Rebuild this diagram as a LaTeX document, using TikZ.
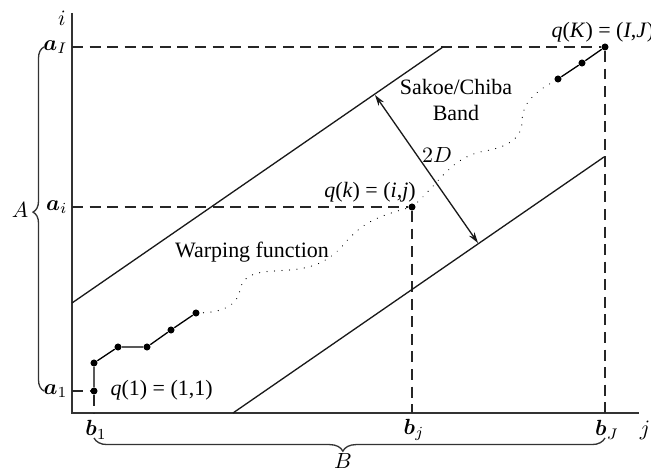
\documentclass[tikz,border=0pt]{standalone}
\usepackage{amsmath}
\usepackage{amssymb}
\usepackage{fontspec}
\setmainfont{Liberation Serif}
\usetikzlibrary{arrows.meta,decorations.pathreplacing}
\tikzset{
  dtwaxis/.style={draw, line width=0.8pt, black!80},
  dtwgrid/.style={draw, line width=0.6pt, black!85, dash pattern=on 5pt off 3pt},
  dtwband/.style={draw, line width=0.6pt, black!90},
  dtwpoint/.style={circle, fill=black, minimum size=3.2pt, inner sep=0pt},
  dtwpath/.style={draw, line width=0.6pt},
  dtwgap/.style={draw, line width=0.55pt, dash pattern=on 0.01pt off 3.4pt,
                 line cap=round},
  dtwbrace/.style={draw, line width=0.6pt, black!80, decorate},
  dtwlabel/.style={font=\fontsize{10}{12}\selectfont, inner sep=1pt}
}

\begin{document}
\begin{tikzpicture}[
    x=0.016cm, y=-0.016cm,
    twoheads/.style={{Stealth[length=5pt,width=3pt]}-{Stealth[length=5pt,width=3pt]}}
]
  \useasboundingbox (0,0) rectangle (651,472);
  % axes
  \coordinate (itop) at (72,13);
  \coordinate (orig) at (72,413);
  \coordinate (jend) at (639,413);
  \draw[dtwaxis] (itop) -- (orig) -- (jend);
  \node[dtwlabel] (ilab) at (62,18) {$i$};
  \node[dtwlabel] (jlab) at (645,430) {$j$};
  % ticks on the axes
  \coordinate (aI) at (72,47);
  \coordinate (ai) at (72,207);
  \coordinate (a1) at (72,391);
  \coordinate (b1) at (94,413);
  \coordinate (bj) at (412,413);
  \coordinate (bJ) at (605,413);
  \node[dtwlabel, anchor=east] (laI) at (70,47) {$\boldsymbol{a}_I$};
  \node[dtwlabel, anchor=east] (lai) at (70,207) {$\boldsymbol{a}_i$};
  \node[dtwlabel, anchor=east] (la1) at (70,391) {$\boldsymbol{a}_1$};
  \node[dtwlabel] (lb1) at (96,430) {$\boldsymbol{b}_1$};
  \node[dtwlabel] (lbj) at (414,430) {$\boldsymbol{b}_j$};
  \node[dtwlabel] (lbJ) at (607,430) {$\boldsymbol{b}_J$};
  % warping points
  \foreach \name/\px/\py in {w1/94/391, w2/94/363, w3/118/347, w4/147/347,
                             w5/171/330, w6/196/313, wk/412/207,
                             w7/558/79, w8/582/63, wK/605/47} {
    \node[dtwpoint] (\name) at (\px,\py) {};
  }
  \draw[dtwgrid] (aI) -- (wK) -- (bJ);
  \draw[dtwgrid] (ai) -- (wk) -- (bj);
  \draw[dtwgrid] (a1) -- (w1) -- (b1);
  \draw[dtwpath] (w1) -- (w2) -- (w3) -- (w4) -- (w5) -- (w6);
  \draw[dtwpath] (w7) -- (w8) -- (wK);
  % dotted parts of the warping function
  \coordinate (g1) at (240,290);
  \coordinate (g2) at (290,270);
  \coordinate (g3) at (345,243);
  \coordinate (g4) at (485,151);
  \coordinate (g5) at (522,122);
  \draw[dtwgap] (w6.center) to[out=0, in=-100] (g1) to[out=80, in=185] (g2)
    to[out=5, in=-130] (g3) to[out=50, in=195] (wk.center);
  \draw[dtwgap] (wk.center) to[out=40, in=190] (g4) to[out=10, in=-90] (g5)
    to[out=90, in=210] (w7.center);
  % Sakoe/Chiba band
  \coordinate (bu1) at (72,303);
  \coordinate (bu2) at (443,47);
  \coordinate (bl1) at (233,413);
  \coordinate (bl2) at (604,157);
  \draw[dtwband] (bu1) -- (bu2);
  \draw[dtwband] (bl1) -- (bl2);
  \coordinate (d1) at (375,95);
  \coordinate (d2) at (478,243);
  \draw[dtwband, twoheads] (d1) -- (d2);
  \node[dtwlabel] (width) at (437,155) {$2D$};
  \node[dtwlabel, align=center] (band) at (456,100) {Sakoe/Chiba\\Band};
  \node[dtwlabel] (warp) at (252,252) {Warping function};
  \node[dtwlabel] (lk) at (370,192) {\textit{q}(\textit{k}) = (\textit{i},\textit{j})};
  \node[dtwlabel, anchor=west] (lK) at (549,32) {\textit{q}(\textit{K}) = (\textit{I},\textit{J})};
  \node[dtwlabel, anchor=west] (l1) at (108,390) {\textit{q}(1) = (1,1)};
  % braces
  \coordinate (Abot) at (44,391);
  \coordinate (Atop) at (44,47);
  \coordinate (Bright) at (605,438);
  \coordinate (Bleft) at (94,438);
  \draw[dtwbrace, decoration={brace, amplitude=5pt, aspect=0.52}] (Abot) -- (Atop);
  \draw[dtwbrace, decoration={brace, amplitude=6pt, aspect=0.513}] (Bright) -- (Bleft);
  \node[dtwlabel] (lA) at (20,210) {$A$};
  \node[dtwlabel] (lB) at (343,461) {$B$};
\end{tikzpicture}
\end{document}
